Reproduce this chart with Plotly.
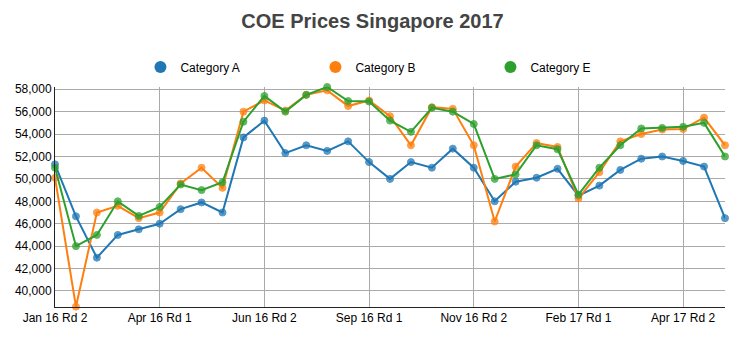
import plotly.graph_objects as go

rounds = [
    "Jan 16 Rd 2", "Feb 16 Rd 1", "Feb 16 Rd 2", "Mar 16 Rd 1", "Mar 16 Rd 2",
    "Apr 16 Rd 1", "Apr 16 Rd 2", "May 16 Rd 1", "May 16 Rd 2", "Jun 16 Rd 1",
    "Jun 16 Rd 2", "Jul 16 Rd 1", "Jul 16 Rd 2", "Aug 16 Rd 1", "Aug 16 Rd 2",
    "Sep 16 Rd 1", "Sep 16 Rd 2", "Oct 16 Rd 1", "Oct 16 Rd 2", "Nov 16 Rd 1",
    "Nov 16 Rd 2", "Dec 16 Rd 1", "Dec 16 Rd 2", "Jan 17 Rd 1", "Jan 17 Rd 2",
    "Feb 17 Rd 1", "Feb 17 Rd 2", "Mar 17 Rd 1", "Mar 17 Rd 2", "Apr 17 Rd 1",
    "Apr 17 Rd 2", "May 17 Rd 1", "May 17 Rd 2",
]

cat_a = [51300, 46660, 42970, 45000, 45500, 46000, 47300, 47900, 47000, 53700,
         55200, 52300, 53000, 52500, 53350, 51500, 50000, 51500, 51000, 52700,
         51000, 48000, 49750, 50100, 50900, 48500, 49400, 50800, 51800, 52000,
         51600, 51100, 46500]
cat_b = [50100, 38600, 47000, 47600, 46500, 47000, 49600, 51000, 49200, 56000,
         57000, 56100, 57500, 57900, 56500, 57000, 55600, 53000, 56400, 56250,
         53000, 46200, 51100, 53200, 52850, 48250, 50600, 53350, 54000, 54400,
         54450, 55470, 53000]
cat_e = [51000, 44000, 45000, 48000, 46700, 47500, 49500, 49000, 49700, 55100,
         57400, 56000, 57500, 58200, 56950, 56900, 55200, 54200, 56350, 56000,
         54900, 50000, 50400, 53000, 52650, 48600, 51000, 53000, 54500, 54550,
         54650, 55000, 52000]

tick_labels = ["Jan 16 Rd 2", "Apr 16 Rd 1", "Jun 16 Rd 2", "Sep 16 Rd 1",
               "Nov 16 Rd 2", "Feb 17 Rd 1", "Apr 17 Rd 2"]
y_ticks = [40000, 42000, 44000, 46000, 48000, 50000, 52000, 54000, 56000, 58000]

series = [("Category A", cat_a, "#1f77b4"),
          ("Category B", cat_b, "#ff7f0e"),
          ("Category E", cat_e, "#2ca02c")]

fig = go.Figure()
for name, vals, col in series:
    fig.add_trace(go.Scatter(
        x=rounds, y=vals, mode="lines+markers", name=name, showlegend=False,
        line=dict(color=col, width=2),
        marker=dict(size=7, color=col, opacity=0.75, line=dict(color=col, width=1)),
        cliponaxis=False,
    ))
for name, vals, col in series:
    fig.add_trace(go.Scatter(
        x=[None], y=[None], mode="markers", name=name, showlegend=True,
        marker=dict(size=12, color=col),
    ))

fig.update_layout(
    width=745, height=347,
    margin=dict(l=55, r=20, t=87, b=40, autoexpand=False),
    paper_bgcolor="white", plot_bgcolor="white",
    font=dict(family="Liberation Sans, Arial, sans-serif", size=12, color="#000"),
    title=dict(text="<b>COE Prices Singapore 2017</b>", x=0.5, xanchor="center",
               y=0.94, yanchor="middle",
               font=dict(size=20, color="#444", family="Liberation Sans, Arial, sans-serif")),
    legend=dict(orientation="h", x=95/745, xanchor="left", y=1 - 67/347, yref="container",
                yanchor="middle", entrywidth=130, itemwidth=30, font=dict(size=12),
                itemclick=False, traceorder="normal"),
    xaxis=dict(type="category", range=[0, 32], tickmode="array",
               tickvals=tick_labels, ticktext=tick_labels,
               showgrid=True, gridcolor="#aaa", gridwidth=1,
               showline=True, linecolor="#222", linewidth=1,
               ticks="", zeroline=False, tickfont=dict(size=12)),
    yaxis=dict(range=[38570, 58200], tickmode="array", tickvals=y_ticks,
               tickformat=",d", showgrid=True, gridcolor="#aaa", gridwidth=1,
               showline=True, linecolor="#222", linewidth=1,
               ticks="", zeroline=False, tickfont=dict(size=12)),
)

fig.write_html("out.html")
